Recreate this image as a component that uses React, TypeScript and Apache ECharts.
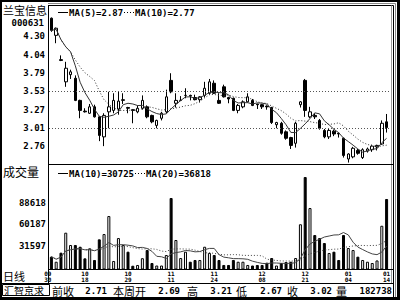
import React, { useEffect, useRef } from "react";
import * as echarts from "echarts";

const dates = [
  "09/30", "10/08", "10/11", "10/12", "10/13", "10/14", "10/15", "10/18", "10/19", "10/20",
  "10/21", "10/22", "10/25", "10/26", "10/27", "10/28", "10/29", "11/01", "11/02", "11/03",
  "11/04", "11/05", "11/08", "11/09", "11/10", "11/11", "11/12", "11/15", "11/16", "11/17",
  "11/18", "11/19", "11/22", "11/23", "11/24", "11/25", "11/26", "11/29", "11/30", "12/01",
  "12/02", "12/03", "12/06", "12/07", "12/08", "12/09", "12/10", "12/13", "12/14", "12/15",
  "12/16", "12/17", "12/20", "12/21", "12/22", "12/23", "12/24", "12/27", "12/28", "12/29",
  "12/30", "12/31", "01/04", "01/05", "01/06", "01/07", "01/10", "01/11", "01/12", "01/13",
  "01/14",
];

const opens = [
  4.55, 4.31, 3.97, 3.66, 3.76, 3.71, 3.40, 3.25, 3.22, 3.31,
  3.17, 2.89, 3.24, 3.26, 3.28, 3.40, 3.30, 3.27, 3.24, 3.29,
  3.31, 3.19, 3.05, 3.15, 3.24, 3.68, 3.36, 3.40, 3.47, 3.47,
  3.44, 3.41, 3.47, 3.50, 3.64, 3.40, 3.59, 3.44, 3.43, 3.26,
  3.31, 3.38, 3.40, 3.35, 3.34, 3.32, 3.30, 3.06, 3.08, 2.96,
  2.88, 2.80, 3.34, 3.68, 3.17, 3.19, 3.12, 2.98, 2.89, 2.97,
  2.94, 2.87, 2.58, 2.61, 2.70, 2.60, 2.69, 2.71, 2.75, 2.79,
  3.10,
];
const closes = [
  4.38, 4.41, 3.96, 3.85, 3.80, 3.40, 3.26, 3.24, 3.31, 3.17,
  2.91, 3.19, 3.31, 3.40, 3.39, 3.41, 3.29, 3.26, 3.29, 3.40,
  3.17, 3.10, 3.12, 3.22, 3.45, 3.52, 3.40, 3.40, 3.47, 3.46,
  3.41, 3.45, 3.57, 3.66, 3.50, 3.36, 3.45, 3.42, 3.26, 3.33,
  3.38, 3.45, 3.33, 3.34, 3.31, 3.31, 3.09, 3.09, 2.94, 2.87,
  2.77, 3.08, 3.38, 3.26, 3.24, 3.17, 3.01, 2.89, 2.98, 2.93,
  2.93, 2.63, 2.65, 2.73, 2.66, 2.71, 2.72, 2.76, 2.77, 3.08,
  3.02,
];
const lows = [
  4.36, 4.20, 3.95, 3.59, 3.70, 3.39, 3.15, 3.23, 3.21, 3.16,
  2.83, 2.76, 3.01, 3.22, 3.20, 3.35, 3.22, 3.08, 3.22, 3.27,
  3.15, 3.08, 3.01, 3.12, 3.22, 3.50, 3.30, 3.39, 3.43, 3.40,
  3.40, 3.37, 3.44, 3.48, 3.49, 3.35, 3.44, 3.36, 3.25, 3.22,
  3.29, 3.37, 3.32, 3.28, 3.28, 3.27, 3.07, 3.01, 2.92, 2.85,
  2.72, 2.74, 3.30, 3.17, 3.15, 3.14, 2.99, 2.87, 2.86, 2.90,
  2.88, 2.60, 2.53, 2.59, 2.64, 2.58, 2.67, 2.68, 2.70, 2.78,
  2.95,
];
const highs = [
  4.56, 4.42, 4.03, 3.94, 3.83, 3.75, 3.41, 3.29, 3.35, 3.34,
  3.18, 3.22, 3.52, 3.50, 3.52, 3.50, 3.31, 3.28, 3.33, 3.47,
  3.33, 3.20, 3.13, 3.24, 3.55, 3.78, 3.50, 3.46, 3.57, 3.48,
  3.48, 3.46, 3.66, 3.70, 3.68, 3.50, 3.62, 3.45, 3.44, 3.35,
  3.40, 3.50, 3.42, 3.35, 3.35, 3.33, 3.31, 3.10, 3.10, 2.98,
  2.89, 3.10, 3.39, 3.70, 3.31, 3.22, 3.14, 3.00, 3.00, 2.99,
  2.95, 2.88, 2.66, 2.75, 2.72, 2.73, 2.74, 2.78, 2.78, 3.12,
  3.21,
];
const volumes = [
  17000, 10300, 22300, 48800, 32500, 32500, 30200, 14800, 28100, 12600,
  40000, 47000, 70900, 11300, 41700, 32500, 23600, 5000, 6000, 15000,
  25800, 8600, 5300, 5300, 19200, 94800, 39100, 15200, 23600, 10300,
  12600, 12600, 30200, 22000, 19200, 12600, 6000, 6000, 12600, 10300,
  10300, 6000, 5300, 6000, 6000, 9000, 15200, 5300, 8600, 9900,
  10300, 15200, 60000, 122600, 81500, 45700, 41700, 35100, 21900, 23600,
  12600, 45700, 28500, 25800, 17000, 12600, 10300, 8600, 12000, 58000,
  93500,
];

const priceTicks = [4.3, 4.04, 3.79, 3.53, 3.27, 3.01, 2.76];
const priceGridLines = [3.53, 3.01];
const volumeTicks = [31597, 60187, 88618];
const labeledDates = ["09/30", "10/18", "10/29", "11/11", "11/24", "12/08", "12/21", "01/04", "01/14"];

const stockName = "兰宝信息";
const stockCode = "000631";
const priceLegend = ["MA(5)=2.87", "MA(10)=2.77"];
const volumeLegend = ["MA(10)=30725", "MA(20)=36818"];
const infoLabels = ["前收", "本周开", "高", "低", "收", "量"];
const infoValues = ["2.71", "2.69", "3.21", "2.67", "3.02", "182738"];

function movingAvg(values: number[], n: number) {
  return values.map((_, i) => {
    const s = Math.max(0, i - n + 1);
    const w = values.slice(s, i + 1);
    return +(w.reduce((a, b) => a + b, 0) / w.length).toFixed(4);
  });
}

const MONO = "'DejaVu Sans Mono'";
const CJK = "'Noto Sans CJK SC'";

function txt(text: string, x: number, y: number, font: string, align = "left") {
  return {
    type: "text",
    x,
    y,
    silent: true,
    style: {
      text,
      font,
      fill: "#000",
      align,
      textAlign: align,
      verticalAlign: "middle",
      textVerticalAlign: "middle",
    },
  };
}
function ln(x1: number, y1: number, x2: number, y2: number, stroke = "#000", dash?: number[]) {
  return {
    type: "line",
    silent: true,
    shape: { x1, y1, x2, y2 },
    style: { stroke, lineWidth: 1, lineDash: dash },
  };
}

export default function App() {
  const ref = useRef<HTMLDivElement>(null);
  useEffect(() => {
    document.body.style.margin = "0";
    const chart = echarts.init(ref.current!, null, { renderer: "svg", width: 400, height: 300 });
    const candles = opens.map((o, i) => [o, closes[i], lows[i], highs[i]]);
    const ma5 = movingAvg(closes, 5);
    const ma10 = movingAvg(closes, 10);
    const vma10 = movingAvg(volumes, 10);
    const vma20 = movingAvg(volumes, 20);
    const volData = volumes.map((v, i) => {
      const up = closes[i] > opens[i] || (closes[i] === opens[i] && i > 0 && closes[i] >= closes[i - 1]);
      return {
        value: v,
        itemStyle: up
          ? { color: "#fff", borderColor: "#000", borderWidth: 1 }
          : { color: "#000", borderColor: "#000", borderWidth: 1 },
      };
    });

    const monoFont = `bold 9px ${MONO}`;
    const cjkFont = `11px ${CJK}`;
    const infoLabelX = [52, 113, 187, 236, 287, 336];
    const infoValueX = [107, 180, 232, 282, 332, 392];

    const graphics: any[] = [
      // outer frame
      { type: "rect", silent: true, shape: { x: 0, y: 0, width: 400, height: 2 }, style: { fill: "#000" } },
      { type: "rect", silent: true, shape: { x: 0, y: 0, width: 2, height: 300 }, style: { fill: "#000" } },
      { type: "rect", silent: true, shape: { x: 397, y: 0, width: 3, height: 300 }, style: { fill: "#000" } },
      { type: "rect", silent: true, shape: { x: 0, y: 297, width: 400, height: 3 }, style: { fill: "#000" } },
      ln(48, 3.5, 395.5, 3.5, "#888"),
      ln(395.5, 3.5, 395.5, 297, "#888"),
      ln(48, 5.5, 393.5, 5.5),
      ln(393.5, 5.5, 393.5, 297),
      ln(391.5, 5.5, 391.5, 283, "#999"),
      ln(48.5, 5.5, 48.5, 283.5),
      ln(48, 164.5, 393.5, 164.5),
      ln(48, 269.5, 393.5, 269.5),
      ln(0, 283.5, 393.5, 283.5),
      { type: "rect", silent: true, shape: { x: 2.5, y: 284.5, width: 47, height: 11 }, style: { fill: "none", stroke: "#000", lineWidth: 1 } },
      // texts
      txt(stockName, 3, 10, `11px ${CJK}`),
      txt(stockCode, 44, 23, monoFont, "right"),
      ln(58, 12.5, 68, 12.5),
      txt(priceLegend[0], 69, 12.5, monoFont),
      ln(124, 12.5, 134, 12.5, "#000", [1, 2]),
      txt(priceLegend[1], 135, 12.5, monoFont),
      txt("成交量", 3, 171, `12px ${CJK}`),
      ln(58, 173.5, 68, 173.5),
      txt(volumeLegend[0], 69, 173.5, monoFont),
      ln(135, 173.5, 145, 173.5, "#000", [1, 2]),
      txt(volumeLegend[1], 146, 173.5, monoFont),
      txt("日线", 3, 276, cjkFont),
      txt("汇智京求", 4, 290.5, `10px ${CJK}`),
    ];
    infoLabels.forEach((l, i) => graphics.push(txt(l, infoLabelX[i], 290.5, cjkFont)));
    infoValues.forEach((v, i) => graphics.push(txt(v, infoValueX[i], 290.5, monoFont, "right")));

    const option: any = {
      animation: false,
      backgroundColor: "#fff",
      grid: [
        { left: 49, right: 11, top: 5, height: 159 },
        { left: 49, right: 11, top: 164, height: 105.5 },
      ],
      xAxis: [
        {
          type: "category",
          data: dates,
          gridIndex: 0,
          boundaryGap: true,
          axisLine: { show: false },
          axisTick: { show: false },
          axisLabel: { show: false },
          splitLine: { show: false },
        },
        {
          type: "category",
          data: dates,
          gridIndex: 1,
          boundaryGap: true,
          axisLine: { show: false },
          axisTick: { show: false },
          splitLine: { show: false },
          axisLabel: {
            interval: (_i: number, v: string) => labeledDates.includes(v),
            formatter: (v: string) => v.replace("/", "\n"),
            fontFamily: MONO,
            fontWeight: "bold",
            fontSize: 6,
            lineHeight: 6,
            color: "#000",
            margin: 1,
            alignMinLabel: "right",
          },
        },
      ],
      yAxis: [
        {
          type: "value",
          gridIndex: 0,
          min: 2.51,
          max: 4.735,
          axisLine: { show: false },
          axisTick: { show: false },
          splitLine: { show: false },
          axisLabel: {
            customValues: priceTicks,
            formatter: (v: number) => v.toFixed(2),
            fontFamily: MONO,
            fontWeight: "bold",
            fontSize: 9,
            color: "#000",
            margin: 4,
          },
        },
        {
          type: "value",
          gridIndex: 1,
          min: 0,
          max: 139900,
          axisLine: { show: false },
          axisTick: { show: false },
          splitLine: { show: false },
          axisLabel: {
            customValues: volumeTicks,
            formatter: (v: number) => String(v),
            fontFamily: MONO,
            fontWeight: "bold",
            fontSize: 9,
            color: "#000",
            margin: 3,
          },
        },
      ],
      series: [
        {
          type: "line",
          data: ma5,
          xAxisIndex: 0,
          yAxisIndex: 0,
          symbol: "none",
          lineStyle: { color: "#333", width: 1 },
          silent: true,
        },
        {
          type: "line",
          data: ma10,
          xAxisIndex: 0,
          yAxisIndex: 0,
          symbol: "none",
          lineStyle: { color: "#333", width: 1, type: [1, 2] },
          silent: true,
        },
        {
          type: "candlestick",
          data: candles,
          xAxisIndex: 0,
          yAxisIndex: 0,
          barWidth: 3,
          itemStyle: {
            color: "#fff",
            color0: "#000",
            borderColor: "#000",
            borderColor0: "#000",
            borderWidth: 1,
          },
          markLine: {
            silent: true,
            symbol: ["none", "none"],
            label: { show: false },
            lineStyle: { color: "#555", width: 1, type: [1, 2] },
            data: priceGridLines.map((v) => ({ yAxis: v })),
          },
        },
        {
          type: "bar",
          data: volData,
          xAxisIndex: 1,
          yAxisIndex: 1,
          barWidth: 3,
        },
        {
          type: "line",
          data: vma10,
          xAxisIndex: 1,
          yAxisIndex: 1,
          symbol: "none",
          lineStyle: { color: "#444", width: 1 },
          silent: true,
        },
        {
          type: "line",
          data: vma20,
          xAxisIndex: 1,
          yAxisIndex: 1,
          symbol: "none",
          lineStyle: { color: "#444", width: 1, type: [1, 2] },
          silent: true,
        },
      ],
      graphic: { elements: graphics },
    };
    chart.setOption(option);
    return () => chart.dispose();
  }, []);
  return (
    <div
      ref={ref}
      style={{ position: "fixed", left: 0, top: 0, width: 400, height: 300, background: "#fff" }}
    />
  );
}
